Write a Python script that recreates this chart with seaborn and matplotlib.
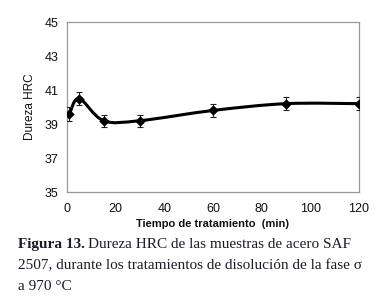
import numpy as np
import seaborn as sns
import matplotlib.pyplot as plt
from matplotlib.path import Path
from matplotlib.patches import PathPatch

# data
tiempo = [1, 5, 15, 30, 60, 90, 120]
dureza = [39.6, 40.5, 39.2, 39.2, 39.8, 40.2, 40.2]
error = [0.4, 0.4, 0.35, 0.35, 0.4, 0.4, 0.4]
yticks = [35, 37, 39, 41, 43, 45]
xticks = [0, 20, 40, 60, 80, 100, 120]

sns.set_theme(style="white")
plt.rcParams['font.family'] = ['Liberation Sans', 'DejaVu Sans']

fig = plt.figure(figsize=(3.83, 3.02), dpi=100)
ax = fig.add_axes([0.175, 0.364, 0.762, 0.563])

# smoothed line (excel-like bezier between the points)
pts = np.column_stack([tiempo, dureza])
verts = [tuple(pts[0])]
codes = [Path.MOVETO]
n = len(pts)
for i in range(n - 1):
    p0 = pts[max(i - 1, 0)]
    p1 = pts[i]
    p2 = pts[i + 1]
    p3 = pts[min(i + 2, n - 1)]
    c1 = p1 + (p2 - p0) / 6
    c2 = p2 - (p3 - p1) / 6
    verts += [tuple(c1), tuple(c2), tuple(p2)]
    codes += [Path.CURVE4] * 3
ax.add_patch(PathPatch(Path(verts, codes), fill=False, edgecolor='black', lw=2.2, zorder=3))

ax.errorbar(tiempo, dureza, yerr=error, fmt='none', ecolor='#222222',
            elinewidth=0.8, capsize=2.5, capthick=0.8, zorder=4)
sns.scatterplot(x=tiempo, y=dureza, marker='D', s=24, color='black',
                edgecolor='black', ax=ax, zorder=5)

ax.set_xlim(0, 120)
ax.set_ylim(35, 45)
ax.set_xticks(xticks)
ax.set_yticks(yticks)
ax.tick_params(axis='both', labelsize=9, length=0, colors='#111111')
ax.tick_params(axis='x', pad=8)
ax.tick_params(axis='y', pad=6)
for s in ax.spines.values():
    s.set_color('#999999')
    s.set_linewidth(0.9)

ax.set_xlabel('Tiempo de tratamiento  (min)', fontsize=8, fontweight='bold',
              color='#111111', labelpad=3)
ax.set_ylabel('Dureza HRC', fontsize=8.5, color='#111111', labelpad=6)

# caption
cap_color = '#1c1c2a'
t = fig.text(0.047, 0.189, 'Figura 13.', family='Liberation Serif', fontsize=11,
             fontweight='bold', color=cap_color, va='center')
fig.canvas.draw()
bb = t.get_window_extent().transformed(fig.transFigure.inverted())
fig.text(bb.x1 + 0.008, 0.189, 'Dureza HRC de las muestras de acero SAF',
         family='Liberation Serif', fontsize=11, color=cap_color, va='center')
fig.text(0.047, 0.119, '2507, durante los tratamientos de disolución de la fase σ',
         family='Liberation Serif', fontsize=11, color=cap_color, va='center')
fig.text(0.047, 0.050, 'a 970 °C', family='Liberation Serif', fontsize=11,
         color=cap_color, va='center')

fig.savefig('out.png', dpi=100)
